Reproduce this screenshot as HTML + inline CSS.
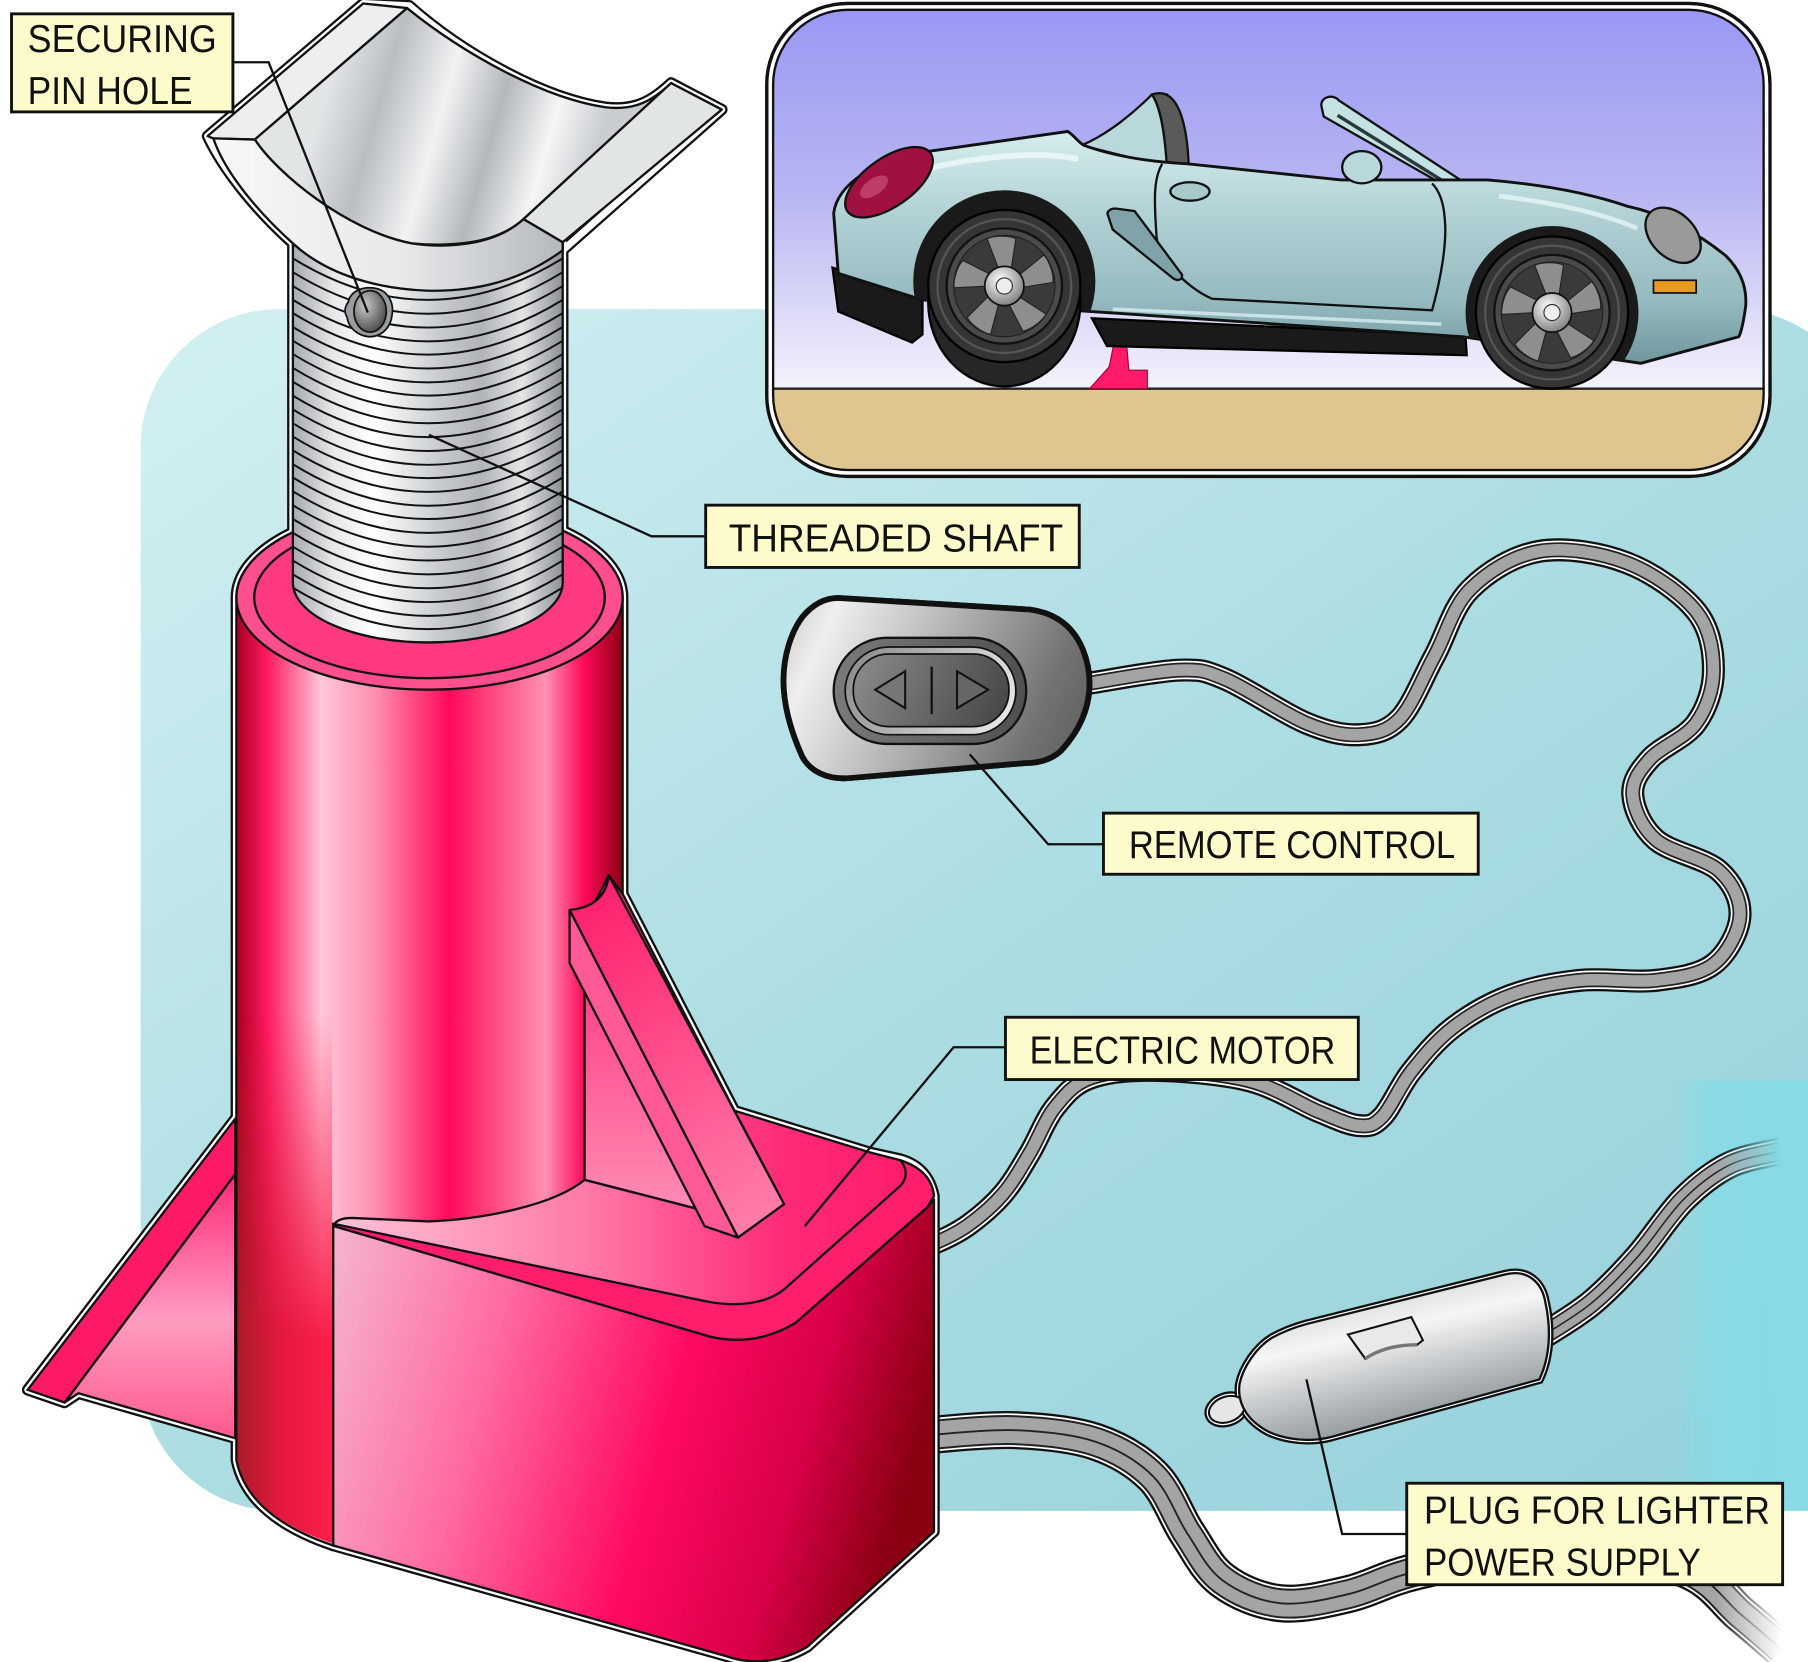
<!DOCTYPE html>
<html><head><meta charset="utf-8">
<style>html,body{margin:0;padding:0;background:#fff;}svg{display:block;}</style>
</head>
<body>
<svg xmlns="http://www.w3.org/2000/svg" width="1808" height="1662" viewBox="0 0 1568 1441" preserveAspectRatio="none">
<defs>
<linearGradient id="tealG" x1="0" y1="0" x2="1" y2="1">
 <stop offset="0" stop-color="#d3f0f2"/><stop offset="0.5" stop-color="#acdde3"/><stop offset="1" stop-color="#95d0da"/>
</linearGradient>
<linearGradient id="cyanG" gradientUnits="userSpaceOnUse" x1="1451" y1="0" x2="1568" y2="0">
 <stop offset="0" stop-color="#86dbe6" stop-opacity="0"/><stop offset="0.3" stop-color="#86dbe6" stop-opacity="0.85"/><stop offset="1" stop-color="#86dbe6"/>
</linearGradient>
<linearGradient id="skyG" gradientUnits="userSpaceOnUse" x1="0" y1="5" x2="0" y2="337">
 <stop offset="0" stop-color="#9898f4"/><stop offset="0.5" stop-color="#b8b6f2"/><stop offset="1" stop-color="#f4f2fb"/>
</linearGradient>
<linearGradient id="carG" gradientUnits="userSpaceOnUse" x1="0" y1="110" x2="0" y2="315">
 <stop offset="0" stop-color="#d8eef0"/><stop offset="0.35" stop-color="#b3d3d6"/><stop offset="0.75" stop-color="#93b9be"/><stop offset="1" stop-color="#6f979d"/>
</linearGradient>
<radialGradient id="hubG" cx="0.4" cy="0.35" r="0.7">
 <stop offset="0" stop-color="#ffffff"/><stop offset="1" stop-color="#7a7a7a"/>
</radialGradient>
<linearGradient id="shaftG" gradientUnits="userSpaceOnUse" x1="254" y1="0" x2="488" y2="0">
 <stop offset="0" stop-color="#a6abae"/><stop offset="0.15" stop-color="#e6e8e9"/><stop offset="0.3" stop-color="#ffffff"/><stop offset="0.55" stop-color="#c6cacd"/><stop offset="0.7" stop-color="#b1b5b8"/><stop offset="0.85" stop-color="#e2e4e5"/><stop offset="1" stop-color="#8d9295"/>
</linearGradient>
<linearGradient id="troughG" gradientUnits="userSpaceOnUse" x1="287" y1="65" x2="518" y2="131">
 <stop offset="0" stop-color="#e2e5e6"/><stop offset="0.2" stop-color="#b9bec1"/><stop offset="0.42" stop-color="#f1f2f3"/><stop offset="0.62" stop-color="#b3b8bb"/><stop offset="0.82" stop-color="#f5f6f6"/><stop offset="1" stop-color="#c9cdd0"/>
</linearGradient>
<linearGradient id="saddleFrontG" gradientUnits="userSpaceOnUse" x1="185" y1="0" x2="488" y2="0">
 <stop offset="0" stop-color="#f7f8f8"/><stop offset="0.55" stop-color="#e6e8e9"/><stop offset="1" stop-color="#b4b9bc"/>
</linearGradient>
<radialGradient id="holeG" cx="0.35" cy="0.35" r="0.8">
 <stop offset="0" stop-color="#c8c8c8"/><stop offset="1" stop-color="#3a3a3a"/>
</radialGradient>
<linearGradient id="pinkCyl" gradientUnits="userSpaceOnUse" x1="205" y1="0" x2="540" y2="0">
 <stop offset="0" stop-color="#a8001e"/><stop offset="0.08" stop-color="#ff1a60"/><stop offset="0.22" stop-color="#ffc6d8"/><stop offset="0.36" stop-color="#ff8fb0"/><stop offset="0.55" stop-color="#ff0a5a"/><stop offset="0.7" stop-color="#ff5c8c"/><stop offset="0.8" stop-color="#ff91b3"/><stop offset="0.9" stop-color="#ff0a5a"/><stop offset="1" stop-color="#8c000f"/>
</linearGradient>
<linearGradient id="lowH" gradientUnits="userSpaceOnUse" x1="205" y1="0" x2="289" y2="0">
 <stop offset="0" stop-color="#a81c28"/><stop offset="0.45" stop-color="#e2183f"/><stop offset="1" stop-color="#ff1f4d"/>
</linearGradient>
<linearGradient id="lowV" gradientUnits="userSpaceOnUse" x1="0" y1="880" x2="0" y2="1160">
 <stop offset="0" stop-color="#000"/><stop offset="1" stop-color="#fff"/>
</linearGradient>
<mask id="lowM" maskUnits="userSpaceOnUse" x="0" y="0" width="1568" height="1441">
 <rect x="0" y="0" width="1568" height="1441" fill="url(#lowV)"/>
</mask>
<linearGradient id="boxFrontG" gradientUnits="userSpaceOnUse" x1="289" y1="1060" x2="810" y2="1200">
 <stop offset="0" stop-color="#f5b5d0"/><stop offset="0.3" stop-color="#ff6aa0"/><stop offset="0.6" stop-color="#ff0a62"/><stop offset="0.82" stop-color="#d80048"/><stop offset="1" stop-color="#8a0012"/>
</linearGradient>
<linearGradient id="boxTopG" gradientUnits="userSpaceOnUse" x1="289" y1="0" x2="810" y2="0">
 <stop offset="0" stop-color="#ffc2d8"/><stop offset="0.4" stop-color="#ff7eaa"/><stop offset="0.75" stop-color="#ff2a78"/><stop offset="1" stop-color="#ff1a68"/>
</linearGradient>
<linearGradient id="backPlateG" gradientUnits="userSpaceOnUse" x1="0" y1="760" x2="0" y2="1050">
 <stop offset="0" stop-color="#ff1f70"/><stop offset="1" stop-color="#ff8cb4"/>
</linearGradient>
<linearGradient id="finRG" gradientUnits="userSpaceOnUse" x1="494" y1="760" x2="680" y2="1060">
 <stop offset="0" stop-color="#ff1a6a"/><stop offset="1" stop-color="#ff80ab"/>
</linearGradient>
<linearGradient id="leftFinG" gradientUnits="userSpaceOnUse" x1="0" y1="1018" x2="0" y2="1247">
 <stop offset="0" stop-color="#ff2a78"/><stop offset="0.55" stop-color="#ff9cc0"/><stop offset="1" stop-color="#ff5a8e"/>
</linearGradient>
<linearGradient id="remoteG" gradientUnits="userSpaceOnUse" x1="681" y1="540" x2="945" y2="660">
 <stop offset="0" stop-color="#d2d2d2"/><stop offset="0.12" stop-color="#efefef"/><stop offset="0.45" stop-color="#b4b4b4"/><stop offset="0.8" stop-color="#737373"/><stop offset="1" stop-color="#5c5c5c"/>
</linearGradient>
<linearGradient id="recessG" gradientUnits="userSpaceOnUse" x1="723" y1="0" x2="890" y2="0">
 <stop offset="0" stop-color="#7a7a7a"/><stop offset="1" stop-color="#505050"/>
</linearGradient>
<linearGradient id="ringG" gradientUnits="userSpaceOnUse" x1="740" y1="560" x2="880" y2="640">
 <stop offset="0" stop-color="#8a8a8a"/><stop offset="1" stop-color="#f0f0f0"/>
</linearGradient>
<linearGradient id="btnG" gradientUnits="userSpaceOnUse" x1="740" y1="570" x2="876" y2="630">
 <stop offset="0" stop-color="#8c8c8c"/><stop offset="1" stop-color="#434343"/>
</linearGradient>
<linearGradient id="plugG" gradientUnits="userSpaceOnUse" x1="1205" y1="1112" x2="1235" y2="1240">
 <stop offset="0" stop-color="#d2d4d5"/><stop offset="0.3" stop-color="#f6f6f6"/><stop offset="0.7" stop-color="#b5babc"/><stop offset="1" stop-color="#8a9294"/>
</linearGradient>
<linearGradient id="fadeG" gradientUnits="userSpaceOnUse" x1="1488" y1="0" x2="1545" y2="0">
 <stop offset="0" stop-color="#fff"/><stop offset="1" stop-color="#000"/>
</linearGradient>
<mask id="fadeM" maskUnits="userSpaceOnUse" x="0" y="0" width="1568" height="1441">
 <rect x="0" y="0" width="1568" height="1441" fill="url(#fadeG)"/>
</mask>
<clipPath id="insetClip"><rect x="668" y="6" width="864" height="404" rx="67"/></clipPath>
<clipPath id="bodyClip"><path d="M723,185 C726,160 758,138 807,131 L926,114 C932,118 935,123 940,126 C962,134 990,140 1030,142 L1163,156 L1290,156 C1340,160 1380,168 1412,179 C1440,185 1470,200 1497,222 C1510,235 1515,250 1514,265 C1512,280 1510,288 1508,292 L1423,315 L1269,292 L945,270 L800,260 L727,237 Z"/></clipPath>

<path id="cab1" d="M940,593 L947,592 C959.7,590.2 1003.7,581.5 1023,581 C1042.3,580.5 1044.7,581.3 1063,589 C1081.3,596.7 1113.7,619 1133,627 C1152.3,635 1165.5,637.7 1179,637 C1192.5,636.3 1203.2,634.3 1214,623 C1224.8,611.7 1233.8,587.7 1244,569 C1254.2,550.3 1259.8,526.2 1275,511 C1290.2,495.8 1312.3,481.8 1335,478 C1357.7,474.2 1388.3,479.3 1411,488 C1433.7,496.7 1458.5,514.5 1471,530 C1483.5,545.5 1486,564.8 1486,581 C1486,597.2 1480.2,614.2 1471,627 C1461.8,639.8 1440.2,647.7 1431,658 C1421.8,668.3 1415.2,677.3 1416,689 C1416.8,700.7 1423.5,717 1436,728 C1448.5,739 1478.8,744 1491,755 C1503.2,766 1509.8,780.5 1509,794 C1508.2,807.5 1498.2,826.7 1486,836 C1473.8,845.3 1455.3,847.7 1436,850 C1416.7,852.3 1391,847.8 1370,850 C1349,852.2 1328.3,856.2 1310,863 C1291.7,869.8 1274.3,880 1260,891 C1245.7,902 1234.2,916.2 1224,929 C1213.8,941.8 1206.5,960.2 1199,968 C1191.5,975.8 1188.2,976.7 1179,976 C1169.8,975.3 1160,970.5 1144,964 C1128,957.5 1107,943 1083,937 C1059,931 1023,928.3 1000,928 C977,927.7 959.2,929.7 945,935 C930.8,940.3 923.7,949.2 915,960 C906.3,970.8 900.5,987.5 893,1000 C885.5,1012.5 878.8,1024.7 870,1035 C861.2,1045.3 850.3,1054.5 840,1062 C829.7,1069.5 813.3,1077 800,1082"/>
<path id="cab2" d="M800,1244 L808,1244 C820,1243.3 856.3,1239 880,1240 C903.7,1241 930,1243.3 950,1250 C970,1256.7 986.7,1266.7 1000,1280 C1013.3,1293.3 1020,1315 1030,1330 C1040,1345 1046.7,1360 1060,1370 C1073.3,1380 1091.7,1388 1110,1390 C1128.3,1392 1150,1386.7 1170,1382 C1190,1377.3 1200,1369 1230,1362 C1260,1355 1311.7,1340.3 1350,1340 C1388.3,1339.7 1433.3,1350 1460,1360 C1486.7,1370 1495.8,1388.3 1510,1400 C1524.2,1411.7 1539.2,1425 1545,1430"/>
<path id="cab3" d="M1325,1166 L1335,1160 C1342.5,1155 1365.8,1141.7 1380,1130 C1394.2,1118.3 1406.7,1105 1420,1090 C1433.3,1075 1446.7,1053.3 1460,1040 C1473.3,1026.7 1485.8,1017 1500,1010 C1514.2,1003 1537.5,1000 1545,998"/>

<g id="jsil">
 <path d="M180,118 L315,3 L355,5 C400,45 470,85 525,93 C550,96 565,88 582,72 L626,95 L488,217 C450,245 410,253 370,252 C320,250 280,235 254,211 C225,185 195,150 180,118 Z"/>
 <rect x="254" y="200" width="234" height="320"/>
 <path d="M205,518 A167.5,80 0 0 1 540,518 L540,1060 L289,1061 L289,1340 Q215,1315 205,1266 Z"/>
 <path d="M289,1061 L289,1340 L630,1436 Q665,1448 700,1428 L810,1328 L810,1037 Q805,1012 781,1005 L754,999 L637,963 L540,775 L530,772 L507,800 Z"/>
 <path d="M204,970 L24,1205 L56,1216 L68,1208 L204,1247 Z"/>
 <path d="M494,789 Q525,786 528,759 L680,1044 L640,1073 L611,1063 L494,835 Z"/>
</g>
<g id="spoke"><path d="M-5,-15 L-15,-41 C-8,-44 4,-44 10,-41 L6,-15 Z" fill="#8e8e8e" stroke="#222" stroke-width="1"/></g>
<g id="rim">
 <circle r="50" fill="#4a4a4a" stroke="#111" stroke-width="2"/>
 <circle r="44" fill="#3a3a3a" stroke="#222" stroke-width="1"/>
 <use href="#spoke"/>
 <use href="#spoke" transform="rotate(72)"/>
 <use href="#spoke" transform="rotate(144)"/>
 <use href="#spoke" transform="rotate(216)"/>
 <use href="#spoke" transform="rotate(288)"/>
 <circle r="17" fill="url(#hubG)" stroke="#111" stroke-width="1.5"/>
 <circle r="7" fill="#eeeeee" stroke="#333" stroke-width="1"/>
</g>
</defs>

<!-- background -->
<rect x="0" y="0" width="1568" height="1441" fill="#ffffff"/>
<rect x="122" y="268" width="1500" height="1042" rx="120" fill="url(#tealG)"/>
<rect x="1451" y="937" width="117" height="373" fill="url(#cyanG)"/>

<!-- car inset -->
<g clip-path="url(#insetClip)">
 <rect x="660" y="0" width="880" height="420" fill="url(#skyG)"/>
 <rect x="660" y="337" width="880" height="80" fill="#dfc690"/>
 <line x1="660" y1="337" x2="1540" y2="337" stroke="#222" stroke-width="2"/>
 <!-- small jack -->
 <rect x="966" y="278" width="9" height="21" fill="#e4e4e4" stroke="#555" stroke-width="1"/>
 <path d="M966,298 L977,298 L979,321 L995,321 L995,337 L945,337 L962,318 Z" fill="#ff1a6a" stroke="#a00030" stroke-width="1"/>
 <!-- underbody -->
 <path d="M722,232 L800,258 L800,290 L791,297 L727,270 Z" fill="#1a1a1a" stroke="#000" stroke-width="2"/>
 <path d="M947,276 L1271,291 L1272,308 L960,300 Z" fill="#1a1a1a" stroke="#000" stroke-width="2"/>
 <!-- headrest / fairing / windshield -->
 <path d="M938,126 C962,116 985,96 999,82 L1012,82 L1014,145 Z" fill="#b9d8db" stroke="#111" stroke-width="2"/>
 <path d="M999,82 C1016,76 1029,92 1031,145 L1012,145 C1010,112 1006,92 999,82 Z" fill="#5a5a5a" stroke="#111" stroke-width="2"/>
 <path d="M1146,92 C1145,84 1156,81 1161,87 L1268,157 L1248,158 L1148,101 Z" fill="#c4e2e4" stroke="#111" stroke-width="2"/>
 <path d="M1160,100 L1250,156" stroke="#2a3a3c" stroke-width="3"/>
 <!-- body -->
 <path d="M723,185 C726,160 758,138 807,131 L926,114 C932,118 935,123 940,126 C962,134 990,140 1030,142 L1163,156 L1290,156 C1340,160 1380,168 1412,179 C1440,185 1470,200 1497,222 C1510,235 1515,250 1514,265 C1512,280 1510,288 1508,292 L1423,315 L1269,292 L945,270 L800,260 L727,237 Z" fill="url(#carG)" stroke="#111" stroke-width="2.5" stroke-linejoin="round"/>
 <!-- highlights -->
 <path d="M790,150 C840,136 900,130 935,138" fill="none" stroke="#eef9fa" stroke-width="5" opacity="0.8"/>
 <path d="M1300,170 C1350,176 1390,185 1420,198" fill="none" stroke="#eef9fa" stroke-width="4" opacity="0.7"/>
 <path d="M965,268 L1250,281" fill="none" stroke="#d9eef0" stroke-width="3" opacity="0.8"/>
 <!-- wheel wells -->
 <g clip-path="url(#bodyClip)">
  <circle cx="871" cy="244" r="79" fill="#1a1a1a"/>
  <circle cx="1346" cy="271" r="75" fill="#1a1a1a"/>
 </g>
 <!-- tail light -->
 <ellipse cx="771" cy="158" rx="44" ry="21" transform="rotate(-35 771 158)" fill="#a01040" stroke="#111" stroke-width="2"/>
 <ellipse cx="758" cy="162" rx="14" ry="7" transform="rotate(-35 758 162)" fill="#c9507a" opacity="0.7"/>
 <!-- door -->
 <path d="M1008,142 C1000,155 1001,175 1003,205 C1005,225 1030,250 1051,259 L1242,269 C1250,240 1255,210 1253,190 C1252,175 1248,165 1242,159" fill="none" stroke="#111" stroke-width="2"/>
 <ellipse cx="1032" cy="166" rx="17" ry="8" fill="#a8c8cc" stroke="#111" stroke-width="2"/>
 <path d="M961,187 C959,183 964,180 969,181 L984,183 L1025,238 C1026,243 1021,244 1017,241 L965,199 Z" fill="#7fa3a8" stroke="#111" stroke-width="2"/>
 <!-- headlight, indicator -->
 <ellipse cx="1451" cy="204" rx="28" ry="19" transform="rotate(45 1451 204)" fill="#9a9a9a" stroke="#111" stroke-width="2"/>
 <rect x="1434" y="243" width="37" height="11" fill="#e89a20" stroke="#111" stroke-width="1.5"/>
 <!-- mirror -->
 <ellipse cx="1181" cy="145" rx="17" ry="14" fill="#b9d8db" stroke="#111" stroke-width="2"/>
 <!-- tires -->
 <ellipse cx="871" cy="262" rx="66" ry="73" fill="#262626" stroke="#000" stroke-width="2"/>
 <circle cx="871" cy="248" r="66" fill="#353535" stroke="#000" stroke-width="2"/>
 <circle cx="871" cy="248" r="58" fill="none" stroke="#555" stroke-width="2"/>
 <use href="#rim" transform="translate(871,248)"/>
 <circle cx="1346" cy="271" r="66" fill="#353535" stroke="#000" stroke-width="2"/>
 <circle cx="1346" cy="271" r="58" fill="none" stroke="#555" stroke-width="2"/>
 <use href="#rim" transform="translate(1346,271)"/>
</g>
<rect x="665" y="3" width="870" height="410" rx="70" fill="none" stroke="#111" stroke-width="3"/>
<rect x="668" y="6" width="864" height="404" rx="67" fill="none" stroke="#fff" stroke-width="3"/>
<rect x="670.5" y="8.5" width="859" height="399" rx="65" fill="none" stroke="#111" stroke-width="2"/>

<!-- cables -->
<g fill="none" stroke-linejoin="round">
 <use href="#cab1" stroke="#111" stroke-width="20"/>
 <use href="#cab1" stroke="#fff" stroke-width="16"/>
 <use href="#cab1" stroke="#222" stroke-width="13"/>
 <use href="#cab1" stroke="#a4a4a4" stroke-width="10"/>
</g>
<g fill="none" stroke-linejoin="round" mask="url(#fadeM)">
 <use href="#cab2" stroke="#111" stroke-width="33"/>
 <use href="#cab2" stroke="#fff" stroke-width="29"/>
 <use href="#cab2" stroke="#222" stroke-width="26"/>
 <use href="#cab2" stroke="#a4a4a4" stroke-width="22.5"/>
 <use href="#cab2" stroke="#222" stroke-width="1.6"/>
 <use href="#cab3" stroke="#111" stroke-width="24"/>
 <use href="#cab3" stroke="#fff" stroke-width="20"/>
 <use href="#cab3" stroke="#222" stroke-width="17"/>
 <use href="#cab3" stroke="#a4a4a4" stroke-width="14"/>
 <use href="#cab3" stroke="#222" stroke-width="1.3"/>
</g>

<!-- remote control -->
<g>
 <path id="remBody" d="M727,520 L893,530 C915,533 935,545 942,578 C946,600 942,625 919,650 C910,658 900,660 890,660 L738,673 C718,675 703,667 697,655 C688,635 681,612 681,590 C681,568 688,548 697,536 C706,525 716,520 727,520 Z" fill="none" stroke="#111" stroke-width="8"/>
 <use href="#remBody" stroke="#fff" stroke-width="4"/>
 <path d="M727,520 L893,530 C915,533 935,545 942,578 C946,600 942,625 919,650 C910,658 900,660 890,660 L738,673 C718,675 703,667 697,655 C688,635 681,612 681,590 C681,568 688,548 697,536 C706,525 716,520 727,520 Z" fill="url(#remoteG)" stroke="#111" stroke-width="2"/>
 <rect x="723" y="553" width="167" height="92" rx="46" fill="url(#recessG)" stroke="#111" stroke-width="2"/>
 <rect x="733" y="561" width="148" height="76" rx="38" fill="url(#ringG)" stroke="#111" stroke-width="1.5"/>
 <rect x="740" y="567" width="135" height="63" rx="31" fill="url(#btnG)" stroke="#111" stroke-width="1.5"/>
 <path d="M759,598 L785,582 L785,614 Z" fill="#777" stroke="#111" stroke-width="1.8"/>
 <path d="M830,582 L857,598 L830,614 Z" fill="#666" stroke="#111" stroke-width="1.8"/>
 <line x1="808" y1="578" x2="808" y2="619" stroke="#111" stroke-width="2"/>
</g>

<!-- plug -->
<g>
 <ellipse cx="1064" cy="1222" rx="16" ry="11" transform="rotate(-20 1064 1222)" fill="none" stroke="#111" stroke-width="8"/>
 <ellipse cx="1064" cy="1222" rx="16" ry="11" transform="rotate(-20 1064 1222)" fill="none" stroke="#fff" stroke-width="4"/>
 <path d="M1133,1148 L1305,1105 C1325,1100 1337,1112 1340,1128 C1345,1150 1345,1175 1335,1196 L1154,1246 C1130,1252 1105,1246 1093,1237 C1080,1228 1073,1215 1075,1200 C1078,1185 1090,1168 1103,1160 C1112,1155 1122,1151 1133,1148 Z" fill="none" stroke="#111" stroke-width="8"/>
 <path d="M1133,1148 L1305,1105 C1325,1100 1337,1112 1340,1128 C1345,1150 1345,1175 1335,1196 L1154,1246 C1130,1252 1105,1246 1093,1237 C1080,1228 1073,1215 1075,1200 C1078,1185 1090,1168 1103,1160 C1112,1155 1122,1151 1133,1148 Z" fill="none" stroke="#fff" stroke-width="4"/>
 <ellipse cx="1064" cy="1222" rx="16" ry="11" transform="rotate(-20 1064 1222)" fill="#e6e6e6" stroke="#111" stroke-width="1.8"/>
 <path d="M1133,1148 L1305,1105 C1325,1100 1337,1112 1340,1128 C1345,1150 1345,1175 1335,1196 L1154,1246 C1130,1252 1105,1246 1093,1237 C1080,1228 1073,1215 1075,1200 C1078,1185 1090,1168 1103,1160 C1112,1155 1122,1151 1133,1148 Z" fill="url(#plugG)" stroke="#111" stroke-width="2"/>
 <path d="M1169,1157 L1224,1142 L1234,1162 L1229,1166 C1212,1166 1196,1170 1184,1178 Z" fill="#e8eaea" stroke="#111" stroke-width="1.8"/>
 <path d="M1184,1178 C1196,1170 1212,1166 1229,1166" fill="none" stroke="#777" stroke-width="3"/>
</g>

<!-- JACK silhouette outline -->
<use href="#jsil" fill="none" stroke="#111" stroke-width="10" stroke-linejoin="round"/>
<use href="#jsil" fill="none" stroke="#fff" stroke-width="6" stroke-linejoin="round"/>

<!-- left fin -->
<path d="M204,1018 L56,1216 L68,1208 L204,1247 Z" fill="url(#leftFinG)" stroke="#111" stroke-width="2"/>
<path d="M204,970 L24,1205 L56,1216 L204,1018 Z" fill="#ff1a68" stroke="#111" stroke-width="2"/>

<!-- cylinder -->
<path d="M205,518 A167.5,80 0 0 1 540,518 L540,1060 L289,1061 L289,1340 Q215,1315 205,1266 Z" fill="url(#pinkCyl)" stroke="#111" stroke-width="2"/>
<path d="M206,880 L288,880 L288,1338 Q216,1314 206,1266 Z" fill="url(#lowH)" mask="url(#lowM)"/>
<ellipse cx="372.5" cy="518" rx="167.5" ry="80" fill="#ff4f8c" stroke="#111" stroke-width="2"/>
<ellipse cx="372.5" cy="518" rx="152" ry="70" fill="#ff3a80" stroke="#111" stroke-width="2"/>

<!-- shaft -->
<path d="M254,200 L254,505 A117,52 0 0 0 488,505 L488,200 Z" fill="url(#shaftG)" stroke="#111" stroke-width="2"/>
<g fill="none" stroke="#111" stroke-width="1.7">
 <path d="M254,212 Q371,284 488,212"/>
 <path d="M254,224 Q371,296 488,224"/>
 <path d="M254,236 Q371,308 488,236"/>
 <path d="M254,248 Q371,320 488,248"/>
 <path d="M254,260 Q371,332 488,260"/>
 <path d="M254,271.5 Q371,343.5 488,271.5"/>
 <path d="M254,283.5 Q371,355.5 488,283.5"/>
 <path d="M254,295.5 Q371,367.5 488,295.5"/>
 <path d="M254,307 Q371,379 488,307"/>
 <path d="M254,319 Q371,391 488,319"/>
 <path d="M254,331 Q371,403 488,331"/>
 <path d="M254,343 Q371,415 488,343"/>
 <path d="M254,355 Q371,427 488,355"/>
 <path d="M254,367 Q371,439 488,367"/>
 <path d="M254,378.5 Q371,450.5 488,378.5"/>
 <path d="M254,390.5 Q371,462.5 488,390.5"/>
 <path d="M254,402.5 Q371,474.5 488,402.5"/>
 <path d="M254,414 Q371,486 488,414"/>
 <path d="M254,426 Q371,498 488,426"/>
 <path d="M254,438 Q371,510 488,438"/>
 <path d="M254,450 Q371,522 488,450"/>
 <path d="M254,462 Q371,534 488,462"/>
 <path d="M254,474 Q371,546 488,474"/>
 <path d="M254,486 Q371,558 488,486"/>
 <path d="M254,498 Q371,570 488,498"/>
 <path d="M254,509.5 Q371,581.5 488,509.5"/>
</g>

<!-- saddle -->
<path d="M180,118 L315,3 L353,7 L221,121 L185,120 Z" fill="#eceeef" stroke="#111" stroke-width="2" stroke-linejoin="round"/>
<path d="M221,121 L353,7 C400,45 470,85 525,93 C550,96 565,88 582,72 L454,190 C430,212 390,214 357,211 C300,200 240,150 221,121 Z" fill="url(#troughG)" stroke="#111" stroke-width="2" stroke-linejoin="round"/>
<path d="M582,72 L626,95 L488,210 L454,190 Z" fill="#e2e5e6" stroke="#111" stroke-width="2" stroke-linejoin="round"/>
<path d="M185,120 L221,121 C240,150 300,200 357,211 C390,216 430,212 454,190 L488,210 L488,217 C450,245 410,253 370,252 C320,250 280,235 254,211 C225,185 195,150 185,120 Z" fill="url(#saddleFrontG)" stroke="#111" stroke-width="2" stroke-linejoin="round"/>

<!-- pin hole -->
<path d="M302,262 C304,252 315,248 326,250 C336,252 342,262 340,273 C339,284 331,292 320,292 C310,291 302,284 301,275 C298,270 299,266 302,262 Z" fill="#9a9d9f" stroke="#111" stroke-width="1.5"/>
<ellipse cx="321" cy="270" rx="14" ry="18" fill="url(#holeG)" stroke="#111" stroke-width="1.5"/>

<!-- back plate -->
<path d="M528,759 L540,775 L637,963 L680,1044 L608,1049 L507,1023 L507,800 Z" fill="url(#backPlateG)" stroke="#111" stroke-width="2" stroke-linejoin="round"/>
<!-- top face -->
<path d="M289,1063 Q292,1056 305,1056 L372,1059 C420,1057 480,1045 507,1023 L608,1049 L611,1063 L640,1073 L680,1044 L637,963 L754,999 L781,1006 Q808,1015 810,1037 L804,1047 L690,1147 Q655,1168 616,1159 Z" fill="url(#boxTopG)" stroke="#111" stroke-width="2" stroke-linejoin="round"/>
<!-- bevel -->
<path d="M289,1061 L611,1128 C640,1134 665,1130 680,1118 L781,1028 Q790,1018 781,1006 Q808,1015 810,1037 L804,1047 L690,1147 Q655,1168 616,1159 L289,1063 Z" fill="#ff1e6c" stroke="#111" stroke-width="2" stroke-linejoin="round"/>
<!-- front + right face -->
<path d="M289,1063 L616,1159 Q655,1168 690,1147 L804,1047 L810,1040 L810,1328 L700,1428 Q665,1448 630,1436 L289,1340 Z" fill="url(#boxFrontG)" stroke="#111" stroke-width="2" stroke-linejoin="round"/>
<!-- fin bar -->
<path d="M494,789 Q525,786 528,759 L680,1044 L640,1073 Z" fill="url(#finRG)" stroke="#111" stroke-width="2" stroke-linejoin="round"/>
<path d="M494,789 L640,1073 L611,1063 L494,835 Z" fill="#ff5a95" stroke="#111" stroke-width="2" stroke-linejoin="round"/>

<!-- leader lines -->
<g fill="none" stroke="#111" stroke-width="2">
 <polyline points="202,54 233,54 319,271"/>
 <polyline points="612,465 565,465 372,377"/>
 <polyline points="957,732 909,732 841,654"/>
 <polyline points="872,908 827,908 698,1063"/>
 <polyline points="1220,1330 1164,1330 1133,1196"/>
</g>

<!-- labels -->
<g fill="#fdfbcb" stroke="#111" stroke-width="2.5">
 <rect x="10" y="12" width="192" height="85"/>
 <rect x="612" y="438" width="324" height="54"/>
 <rect x="957" y="705" width="325" height="53"/>
 <rect x="872" y="882" width="306" height="54"/>
 <rect x="1220" y="1286" width="326" height="88"/>
</g>
<g font-family="'Liberation Sans Narrow','Liberation Sans',sans-serif" font-size="34" fill="#111">
 <text x="24" y="45" textLength="164" lengthAdjust="spacingAndGlyphs">SECURING</text>
 <text x="24" y="90" textLength="143" lengthAdjust="spacingAndGlyphs">PIN HOLE</text>
 <text x="632" y="478" textLength="290" lengthAdjust="spacingAndGlyphs">THREADED SHAFT</text>
 <text x="979" y="744" textLength="283" lengthAdjust="spacingAndGlyphs">REMOTE CONTROL</text>
 <text x="893" y="922" textLength="265" lengthAdjust="spacingAndGlyphs">ELECTRIC MOTOR</text>
 <text x="1235" y="1321" textLength="300" lengthAdjust="spacingAndGlyphs">PLUG FOR LIGHTER</text>
 <text x="1235" y="1366" textLength="240" lengthAdjust="spacingAndGlyphs">POWER SUPPLY</text>
</g>
</svg>
</body></html>
